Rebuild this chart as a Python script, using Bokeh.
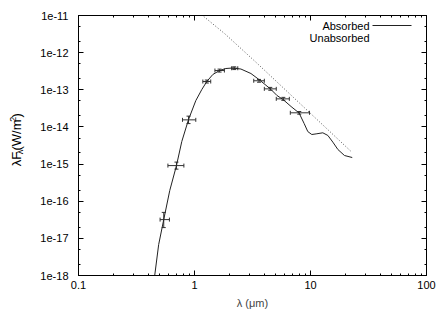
import math
from bokeh.plotting import figure
from bokeh.layouts import row
from bokeh.models import (ColumnDataSource, FixedTicker, CustomJSTickFormatter, LogAxis,
                          Label, Arrow, Whisker, TeeHead, Range1d)
from bokeh.core.properties import value
from bokeh.embed import file_html
from bokeh.resources import INLINE

# ---------------- data ----------------
# observed photometry (wavelength in micron, lambda*F_lambda in W/m^2)
obs_wl = [0.543, 0.699, 0.888, 1.277, 1.645, 2.20, 3.60, 4.50, 5.83, 8.00]
obs_wl_lo = [0.505, 0.59, 0.788, 1.18, 1.50, 2.09, 3.24, 4.00, 5.07, 6.70]
obs_wl_hi = [0.608, 0.81, 1.026, 1.38, 1.81, 2.36, 4.00, 5.07, 6.57, 9.80]
obs_flux = [3.2e-17, 9.1e-16, 1.55e-14, 1.67e-13, 3.3e-13, 3.8e-13, 1.75e-13, 1.06e-13, 5.7e-14, 2.4e-14]
obs_flux_lo = [1.95e-17, 7.3e-16, 1.23e-14, 1.52e-13, 3.0e-13, 3.5e-13, 1.6e-13, 0.97e-13, 5.2e-14, 2.2e-14]
obs_flux_hi = [5.0e-17, 1.13e-15, 1.95e-14, 1.83e-13, 3.6e-13, 4.15e-13, 1.9e-13, 1.16e-13, 6.25e-14, 2.6e-14]

# absorbed model curve
abs_wl = [0.436, 0.454, 0.491, 0.543, 0.612, 0.699, 0.777, 0.888, 1.026, 1.157, 1.277, 1.439,
          1.645, 1.865, 2.143, 2.513, 3.066, 3.595, 4.053, 4.565, 5.145, 5.798, 6.796, 7.97,
          8.81, 9.48, 10.26, 11.18, 12.77, 14.11, 15.58, 17.22, 19.63, 22.9]
abs_flux = [5.4e-19, 1.0e-18, 6.8e-18, 3.2e-17, 1.94e-16, 9.1e-16, 4.05e-15, 1.58e-14, 5.1e-14,
            1.02e-13, 1.67e-13, 2.58e-13, 3.30e-13, 3.74e-13, 3.86e-13, 3.62e-13, 2.74e-13,
            1.89e-13, 1.39e-13, 1.02e-13, 7.0e-14, 5.47e-14, 3.55e-14, 2.37e-14, 1.24e-14,
            7.5e-15, 6.25e-15, 6.5e-15, 6.95e-15, 5.9e-15, 3.9e-15, 2.47e-15, 1.70e-15, 1.50e-15]

# unabsorbed model curve
unabs_wl = [1.0, 1.173, 1.83, 3.39, 22.4]
unabs_flux = [1.5e-11, 1.0e-11, 3.2e-12, 5.5e-13, 2.18e-15]

x_ticks = [0.1, 1, 10, 100]
y_ticks = [1e-18, 1e-17, 1e-16, 1e-15, 1e-14, 1e-13, 1e-12, 1e-11]
x_minor = [m * 10.0 ** e for e in (-1, 0, 1) for m in range(2, 10)]
y_minor = [m * 10.0 ** e for e in range(-18, -11) for m in (2, 5)]

legend_labels = ["Absorbed", "Unabsorbed"]
x_title = "λ (μm)"
# y title pieces: (text, font px, baseline shift px; + = subscript)
y_title = [("λF", 13, 0), ("λ", 9, 3), (" (W/m", 13, 0), ("2", 9, -4), (")", 13, 0)]

FONT = "Liberation Sans"
W_TITLE = 30
TOTAL_W, TOTAL_H = 447, 313

p = figure(width=TOTAL_W - W_TITLE, height=TOTAL_H, x_axis_type="log", y_axis_type="log",
           x_range=Range1d(0.1, 100), y_range=Range1d(1e-18, 1e-11),
           output_backend="svg", toolbar_location=None,
           min_border_left=78 - W_TITLE, min_border_right=21, min_border_top=15,
           min_border_bottom=38)
p.background_fill_color = "white"
p.border_fill_color = "white"
p.outline_line_color = "black"
p.xgrid.visible = False
p.ygrid.visible = False

# curves
p.line(unabs_wl, unabs_flux, line_color="#555555", line_width=1, line_dash="1 2")
p.line(abs_wl, abs_flux, line_color="#222222", line_width=1)

# error bars
src = ColumnDataSource(dict(wl=obs_wl, wl_lo=obs_wl_lo, wl_hi=obs_wl_hi,
                            f=obs_flux, f_lo=obs_flux_lo, f_hi=obs_flux_hi))
EB = "#333333"
p.add_layout(Whisker(source=src, base="f", lower="wl_lo", upper="wl_hi", dimension="width",
                     line_color=EB, line_width=1,
                     lower_head=TeeHead(size=4, line_color=EB, line_width=1),
                     upper_head=TeeHead(size=4, line_color=EB, line_width=1)))
p.add_layout(Whisker(source=src, base="wl", lower="f_lo", upper="f_hi", dimension="height",
                     line_color=EB, line_width=1,
                     lower_head=TeeHead(size=4, line_color=EB, line_width=1),
                     upper_head=TeeHead(size=4, line_color=EB, line_width=1)))

# ---- axes ----
xfmt = CustomJSTickFormatter(code="return tick >= 1 ? tick.toFixed(0) : String(tick);")
yfmt = CustomJSTickFormatter(code="return tick.toExponential(0);")
blank = CustomJSTickFormatter(code="return '';")

def style(ax, labels=True):
    ax.axis_line_color = "black"
    ax.major_tick_in = 5
    ax.major_tick_out = 0
    ax.minor_tick_in = 2
    ax.minor_tick_out = 0
    ax.major_tick_line_color = "black"
    ax.minor_tick_line_color = "black"
    ax.major_label_text_font = FONT
    ax.major_label_text_font_size = "11px" if labels else "0px"
    ax.major_label_text_color = "black"
    if not labels:
        ax.major_label_standoff = 0

xax = p.xaxis[0]
xax.ticker = FixedTicker(ticks=x_ticks, minor_ticks=x_minor)
xax.formatter = xfmt
style(xax)
xax.axis_label = x_title
xax.axis_label_text_font = FONT
xax.axis_label_text_font_size = "11px"
xax.axis_label_text_font_style = "normal"
xax.axis_label_standoff = 5

yax = p.yaxis[0]
yax.ticker = FixedTicker(ticks=y_ticks, minor_ticks=y_minor)
yax.formatter = yfmt
style(yax)
yax.major_label_standoff = 10

top = LogAxis(ticker=FixedTicker(ticks=x_ticks, minor_ticks=x_minor), formatter=blank)
style(top, labels=False)
p.add_layout(top, "above")
right = LogAxis(ticker=FixedTicker(ticks=y_ticks, minor_ticks=y_minor), formatter=blank)
style(right, labels=False)
p.add_layout(right, "right")

# ---- legend (gnuplot style: text then sample) ----
for i, lab in enumerate(legend_labels):
    p.add_layout(Label(x=291, y=250 - 12 * i, x_units="screen", y_units="screen", text=lab,
                       text_align="right", text_baseline="middle", text_font=FONT,
                       text_font_size="11px", text_color="black"))
p.add_layout(Arrow(x_start=294, y_start=250, x_end=333, y_end=250,
                   start_units="screen", end_units="screen", start=None, end=None,
                   line_color="#222222", line_width=1))

# ---- y-axis title in a narrow side panel (sub/superscripts as separate texts) ----
t = figure(width=W_TITLE, height=TOTAL_H, x_range=Range1d(0, W_TITLE), y_range=Range1d(0, TOTAL_H),
           output_backend="svg", toolbar_location=None, min_border=0)
t.axis.visible = False
t.grid.visible = False
t.outline_line_color = None
t.background_fill_color = "white"
t.border_fill_color = "white"
adv = {"λ": 500, "F": 611, " ": 278, "(": 333, "W": 944, "/": 278, "m": 833, "2": 556, ")": 333}
widths = [sum(adv[c] for c in s) * fs / 1000.0 for s, fs, _ in y_title]
pos = (TOTAL_H - 150) - sum(widths) / 2
cx = 16
for (s, fs, dx), w in zip(y_title, widths):
    t.text(x=[cx + dx], y=[pos], text=[s], angle=math.pi / 2, text_align="left",
           text_baseline="middle", text_font=value(FONT), text_font_size=value(f"{fs}px"),
           text_color="black")
    pos += w

layout = row(t, p)
open("out.html", "w").write(file_html(layout, INLINE))
